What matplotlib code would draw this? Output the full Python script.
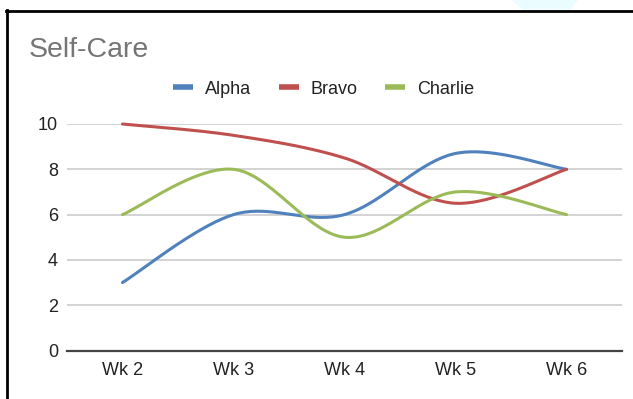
import numpy as np
import matplotlib
matplotlib.use("Agg")
import matplotlib.pyplot as plt
from matplotlib.lines import Line2D
from matplotlib.patches import Polygon

# =========================
# Data
# =========================
weeks = ["Wk 2", "Wk 3", "Wk 4", "Wk 5", "Wk 6"]
alpha = [3, 6, 6, 8.7, 8]
bravo = [10, 9.5, 8.5, 6.5, 8]
charlie = [6, 8, 5, 7, 6]
yticks = [0, 2, 4, 6, 8, 10]

series = [("Alpha", alpha, "#4f81bd"),
          ("Bravo", bravo, "#c0504d"),
          ("Charlie", charlie, "#9bbb59")]

plt.rcParams['font.family'] = ['Liberation Sans', 'DejaVu Sans']


def smooth(xs, ys, k=1/6, n=40):
    # cubic bezier through the points (catmull-rom style), like curveType 'function'
    p = np.column_stack([xs, ys]).astype(float)
    out = [p[0]]
    for i in range(len(p) - 1):
        p0 = p[i - 1] if i > 0 else p[i]
        p3 = p[i + 2] if i + 2 < len(p) else p[i + 1]
        c1 = p[i] + (p[i + 1] - p0) * k
        c2 = p[i + 1] - (p3 - p[i]) * k
        t = np.linspace(0, 1, n)[1:, None]
        seg = ((1 - t) ** 3) * p[i] + 3 * ((1 - t) ** 2) * t * c1 \
            + 3 * (1 - t) * t ** 2 * c2 + t ** 3 * p[i + 1]
        out.extend(seg)
    out = np.array(out)
    return out[:, 0], out[:, 1]


# =========================
# Figure
# =========================
W, H = 633, 399
fig = plt.figure(figsize=(W / 100, H / 100), dpi=100)
ax = fig.add_axes([67 / W, (H - 350.5) / H, 555 / W, 226.5 / H])

x = np.arange(len(weeks))
handles = []
for name, vals, col in series:
    sx, sy = smooth(x, vals)
    ax.plot(sx, sy, color=col, lw=2.2, clip_on=False, solid_capstyle='round', zorder=3)
    handles.append(Line2D([], [], color=col, lw=4, solid_capstyle='butt'))

ax.set_xlim(-0.5, len(weeks) - 0.5)
ax.set_ylim(0, 10)
ax.set_xticks(x)
ax.set_xticklabels(weeks)
ax.set_yticks(yticks)
ax.tick_params(length=0, labelsize=13, colors="#222222")
ax.tick_params(axis='y', pad=6.5)
ax.tick_params(axis='x', pad=8)
ax.grid(axis='y', color="#cccccc", lw=1.2)
ax.set_axisbelow(True)
for s in ["top", "right", "left"]:
    ax.spines[s].set_visible(False)
ax.spines["bottom"].set_color("#444444")
ax.spines["bottom"].set_linewidth(1.6)
ax.spines["bottom"].set_zorder(4)

# title and legend
fig.text(29 / W, 1 - 57 / H, "Self-Care", fontsize=20.5, color="#757575",
         ha="left", va="baseline")
fig.legend(handles, [s[0] for s in series], ncol=3, frameon=False,
           loc="center", bbox_to_anchor=(323.5 / W, 1 - 89 / H),
           fontsize=13, handlelength=1.1, handletextpad=0.65,
           columnspacing=1.55, labelcolor="#222222")

# screenshot frame: left and top border, faint blob near top
fig.add_artist(Line2D([7 / W, 7 / W], [0, 1 - 10 / H], color="black", lw=2,
                      transform=fig.transFigure))
fig.add_artist(Line2D([6 / W, 1], [1 - 11 / H, 1 - 11 / H], color="black", lw=2,
                      transform=fig.transFigure))
fig.add_artist(Polygon([(513 / W, 1), (577 / W, 1), (570 / W, 1 - 9 / H), (523 / W, 1 - 9 / H)],
                       closed=True, color="#eafcff", transform=fig.transFigure, zorder=0))

fig.savefig("out.png", dpi=100)
